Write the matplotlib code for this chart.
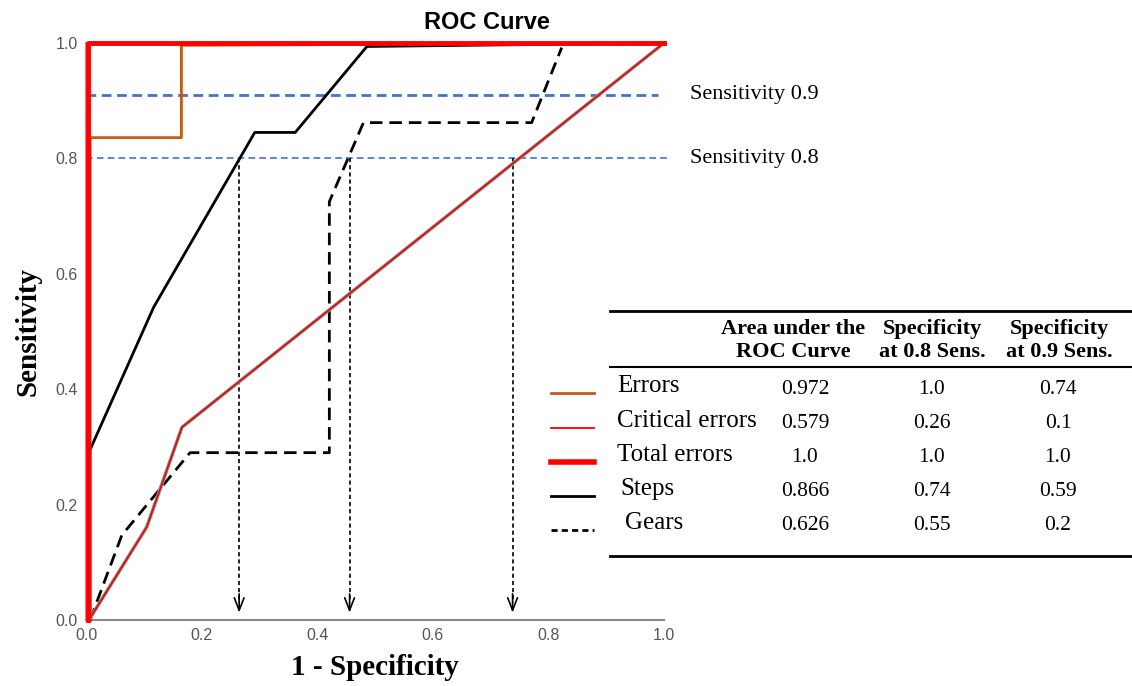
#!/usr/bin/env python3

import matplotlib
matplotlib.use('Agg')
import matplotlib.pyplot as plt

# ROC curves (x = 1 - specificity, y = sensitivity)
errors_x = [0.007, 0.007, 0.165, 0.165, 1.0]
errors_y = [0.0, 0.836, 0.836, 0.996, 1.0]

critical_x = [0.005, 0.105, 0.166, 1.0]
critical_y = [0.0, 0.161, 0.334, 1.0]

total_x = [0.003, 0.003, 1.0]
total_y = [0.0, 1.0, 1.0]

steps_x = [0.007, 0.007, 0.117, 0.292, 0.362, 0.486, 1.0]
steps_y = [0.0, 0.295, 0.542, 0.845, 0.845, 0.994, 1.0]

gears_x = [0.007, 0.062, 0.18, 0.421, 0.421, 0.48, 0.771, 0.823]
gears_y = [0.0, 0.147, 0.29, 0.29, 0.725, 0.862, 0.862, 0.992]

sens_levels = [0.91, 0.80]
sens_labels = ['Sensitivity 0.9', 'Sensitivity 0.8']
arrow_x = [0.265, 0.456, 0.738]

ticks = [0.0, 0.2, 0.4, 0.6, 0.8, 1.0]

table_header = ['Area under the\nROC Curve', 'Specificity\nat 0.8 Sens.',
                'Specificity\nat 0.9 Sens.']
row_names = ['Errors', 'Critical errors', 'Total errors', 'Steps', 'Gears']
auc = ['0.972', '0.579', '1.0', '0.866', '0.626']
spec_08 = ['1.0', '0.26', '1.0', '0.74', '0.55']
spec_09 = ['0.74', '0.1', '1.0', '0.59', '0.2']

ORANGE = '#C55A11'
RED = '#FF0000'
BLUE = '#4472C4'
SERIF = 'Liberation Serif'
SANS = 'Liberation Sans'

W, H = 1132, 686
fig = plt.figure(figsize=(W / 100, H / 100), dpi=100)
ax = fig.add_axes([86 / W, 1 - 620 / H, 578 / W, 577 / H])

# curves
ax.plot(steps_x, steps_y, color='black', lw=2, clip_on=False, zorder=3)
ax.plot(gears_x, gears_y, color='black', lw=2, ls=(0, (4.5, 2.5)),
        clip_on=False, zorder=3)
ax.plot(critical_x, critical_y, color='#6FA8A8', lw=2.6, clip_on=False, zorder=3)
ax.plot(critical_x, critical_y, color=RED, lw=1.3, clip_on=False, zorder=4)
ax.plot(errors_x, errors_y, color=ORANGE, lw=2, clip_on=False, zorder=4)
ax.plot(total_x, total_y, color=RED, lw=3.5, clip_on=False, zorder=5)

# sensitivity reference lines
ax.plot([0, 0.99], [sens_levels[0]] * 2, color=BLUE, lw=2,
        ls=(0, (3.5, 2)), clip_on=False, zorder=2)
ax.plot([0, 1.005], [sens_levels[1]] * 2, color=BLUE, lw=1.2,
        ls=(0, (4, 2.5)), clip_on=False, zorder=2)
for lvl, lab in zip(sens_levels, sens_labels):
    ax.text(1.045, lvl, lab, fontsize=16, family=SERIF, va='center', ha='left',
            clip_on=False)

# dotted drop lines with open arrow heads
for x in arrow_x:
    ax.plot([x, x], [0.8, 0.03], color='black', lw=1.2, ls=(0, (2.5, 1.8)),
            zorder=2)
    ax.annotate('', xy=(x, 0.008), xytext=(x, 0.05),
                arrowprops=dict(arrowstyle='->, head_width=0.35, head_length=0.9',
                                color='black', lw=1.2))

ax.set_xlim(0, 1)
ax.set_ylim(0, 1)
ax.set_xticks(ticks)
ax.set_yticks(ticks)
ax.set_xticklabels(['%.1f' % t for t in ticks])
ax.set_yticklabels(['%.1f' % t for t in ticks])
ax.tick_params(length=0, labelsize=11.5, labelcolor='#555555', pad=6)
for lab in ax.get_xticklabels() + ax.get_yticklabels():
    lab.set_family(SANS)
for side in ['top', 'right']:
    ax.spines[side].set_visible(False)
ax.spines['bottom'].set_color('#888888')
ax.spines['bottom'].set_linewidth(1.5)
ax.spines['left'].set_color('#9A9AC8')
ax.spines['left'].set_linewidth(1.5)

ax.set_title('ROC Curve', fontsize=17, fontweight='bold', family=SANS,
             x=(487 - 86) / 578, pad=10)
ax.set_xlabel('1 - Specificity', fontsize=21, fontweight='bold', family=SERIF,
              labelpad=8)
ax.set_ylabel('Sensitivity', fontsize=21, fontweight='bold', family=SERIF,
              labelpad=10)


# table with legend samples, in pixel coordinates of the figure
def fx(px):
    return px / W


def fy(py):
    return 1 - py / H


for py, lw in [(311, 2), (367, 1.5), (556, 2)]:
    fig.add_artist(plt.Line2D([fx(610), fx(1132)], [fy(py), fy(py)],
                              color='black', lw=lw))

col_x = [805, 932, 1058]
head_x = [793, 932, 1059]
for x, head in zip(head_x, table_header):
    fig.text(fx(x), fy(340), head, ha='center', va='center', fontsize=16,
             fontweight='bold', family=SERIF, linespacing=1.2)

row_y = [386, 421, 455, 489, 523]
label_x = [617, 617, 617, 620, 625]
sample_style = [dict(color=ORANGE, lw=2), dict(color=RED, lw=1.3),
                dict(color=RED, lw=4), dict(color='black', lw=2),
                dict(color='black', lw=2, ls=(0, (2.2, 1.5)))]
for i, name in enumerate(row_names):
    y = row_y[i]
    fig.add_artist(plt.Line2D([fx(551), fx(594)], [fy(y + 7), fy(y + 7)],
                              **sample_style[i]))
    fig.text(fx(label_x[i]), fy(y), name, ha='left', va='center', fontsize=18,
             family=SERIF)
    for x, val in zip(col_x, [auc[i], spec_08[i], spec_09[i]]):
        fig.text(fx(x), fy(y + 3), val, ha='center', va='center', fontsize=15.5,
                 family=SERIF)

plt.savefig('out.png', dpi=100)
